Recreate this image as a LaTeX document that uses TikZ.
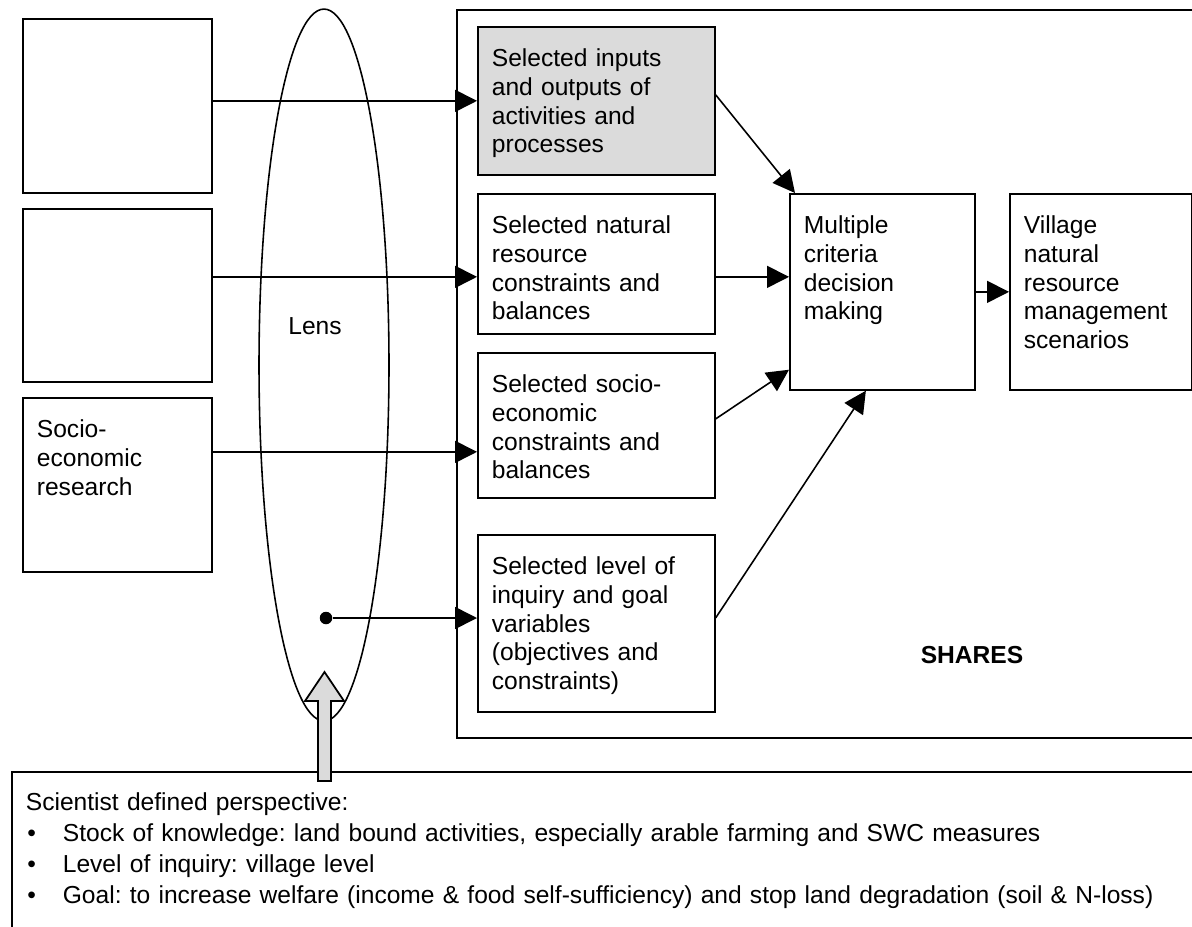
\documentclass[tikz,border=0pt]{standalone}
\usepackage{fontspec}
\setmainfont{Liberation Sans}
\usetikzlibrary{arrows.meta,shapes.geometric}
\definecolor{boxgray}{gray}{0.86}
\frenchspacing
\newcommand{\bul}{\hspace*{0.03cm}\makebox[0.71cm][l]{\textbullet}}
\tikzset{
  box/.style={draw, line width=1pt, anchor=north west, align=left,
    inner xsep=0.28cm, inner ysep=0pt, text height=0.8cm},
  arr/.style={-{Triangle[length=0.44cm,width=0.44cm]}, line width=0.9pt}
}
\begin{document}
\begin{tikzpicture}[x=0.02cm, y=-0.02cm, font=\fontsize{14}{16.3}\selectfont]
\clip (0,0) rectangle (1192,926);
% SHARES frame
\node[draw, line width=1pt, anchor=north west, inner sep=0pt,
  minimum width=14.9cm, minimum height=14.56cm] (shares) at (456,9) {};
\node[font=\fontsize{14}{16.3}\selectfont\bfseries] (sharesname) at (972,655) {SHARES};

% research boxes
\node[box, text width=3.22cm, text depth=2.68cm] (src1) at (22,18) {};
\node[box, text width=3.22cm, text depth=2.66cm] (src2) at (22,208) {};
\node[box, text width=3.22cm, text depth=2.68cm] (src3) at (22,397) {Socio-\\economic\\research};

% lens
\node[draw, ellipse, line width=0.9pt, inner sep=0pt,
  minimum width=2.6cm, minimum height=14.24cm] (lens) at (324,365) {};
\node (lensname) at (315,326) {Lens};

% selected parts
\node[box, fill=boxgray, text width=4.18cm, text depth=2.16cm] (inputs) at (477,26)
  {Selected inputs\\and outputs of\\activities and\\processes};
\node[box, text width=4.18cm, text depth=2.0cm] (natural) at (477,193)
  {Selected natural\\resource\\constraints and\\balances};
\node[box, text width=4.18cm, text depth=2.1cm] (socio) at (477,352)
  {Selected socio-\\economic\\constraints and\\balances};
\node[box, text width=4.18cm, text depth=2.74cm] (level) at (477,534)
  {Selected level of\\inquiry and goal\\variables\\(objectives and\\constraints)};
\node[box, text width=3.14cm, text depth=3.12cm] (mcdm) at (789,193)
  {Multiple\\criteria\\decision\\making};
\node[box, text width=3.08cm, text depth=3.12cm] (village) at (1009,193)
  {Village\\natural\\resource\\management\\scenarios};

% arrows through the lens
\coordinate (in1) at ([yshift=-0.26cm]natural.west);
\coordinate (in2) at ([yshift=-0.53cm]socio.west);
\draw[arr] (src1.east |- inputs.west) -- (inputs.west);
\draw[arr] (src2.east |- in1) -- (in1);
\draw[arr] (src3.east |- in2) -- (in2);
\node[circle, fill, inner sep=0pt, minimum size=0.25cm] (dot) at (326,618) {};
\draw[arr] (dot) -- (dot -| level.west);

% into decision making
\draw[arr] ([yshift=0.12cm]inputs.east) -- ([xshift=0.12cm]mcdm.north west);
\draw[arr] (natural.east |- in1) -- (mcdm.west |- in1);
\draw[arr] ([yshift=0.13cm]socio.east) -- ([yshift=0.42cm]mcdm.south west);
\draw[arr] ([yshift=0.11cm]level.east) -- ([xshift=-0.33cm]mcdm.south);
\draw[arr] (mcdm.east) -- (village.west);

% perspective
\node[box, text width=23.82cm, text height=0.78cm, text depth=2.6cm,
  font=\fontsize{14}{17.5}\selectfont] (persp) at (11,771)
  {Scientist defined perspective:\\
   \bul Stock of knowledge: land bound activities, especially arable farming and SWC measures\\
   \bul Level of inquiry: village level\\
   \bul Goal: to increase welfare (income \& food self-sufficiency) and stop land degradation (soil \& N-loss)};

% block arrow
\draw[line width=1pt, fill=boxgray] (318,781) -- (318,701) -- (305,701) -- (324.5,672)
  -- (344,701) -- (331,701) -- (331,781) -- cycle;
\end{tikzpicture}
\end{document}
